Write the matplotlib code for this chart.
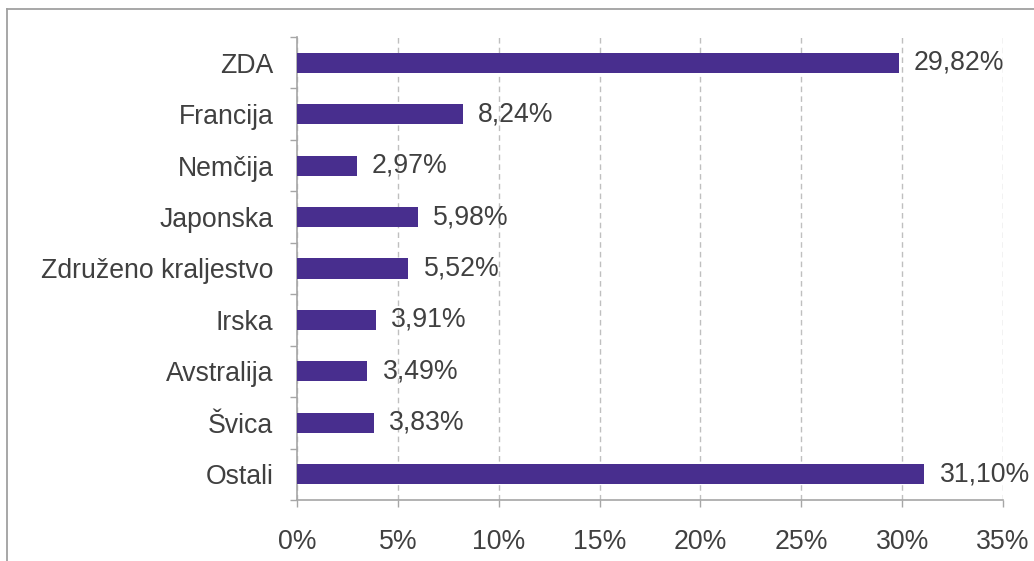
import numpy as np
import matplotlib
matplotlib.use("Agg")
import matplotlib.pyplot as plt
from matplotlib.lines import Line2D

plt.rcParams["font.family"] = ["Liberation Sans", "DejaVu Sans"]

# ── Data ──────────────────────────────────────────────────────────────────────
countries = ["ZDA", "Francija", "Nemčija", "Japonska", "Združeno kraljestvo",
             "Irska", "Avstralija", "Švica", "Ostali"]
shares = [29.82, 8.24, 2.97, 5.98, 5.52, 3.91, 3.49, 3.83, 31.10]
xticks = [0, 5, 10, 15, 20, 25, 30, 35]

BAR = "#482E8E"
TXT = "#404040"
AXC = "#A6A6A6"
FS = 19.2

fig = plt.figure(figsize=(10.34, 5.61), dpi=100)
fig.patch.set_facecolor("white")
ax = fig.add_axes([297 / 1034, 1 - 500 / 561, (1003 - 297) / 1034, (500 - 37) / 561])

y = np.arange(len(countries))
ax.barh(y, shares, height=0.39, color=BAR, zorder=3)

for yi, v in zip(y, shares):
    ax.text(v + 0.75, yi, f"{v:.2f}%".replace(".", ","), va="center", ha="left",
            fontsize=FS, color=TXT, zorder=4)

ax.set_xlim(0, 35)
ax.set_ylim(len(countries) - 0.5, -0.5)

ax.set_xticks(xticks)
ax.set_xticklabels([f"{t}%" for t in xticks])
ax.set_yticks(y)
ax.set_yticklabels(countries)
ax.set_yticks(np.arange(-0.5, len(countries), 1), minor=True)

ax.tick_params(axis="x", length=5, width=1, color=AXC, pad=16,
               labelsize=FS, labelcolor=TXT)
ax.tick_params(axis="y", which="major", length=0, pad=17,
               labelsize=FS, labelcolor=TXT)
ax.tick_params(axis="y", which="minor", length=5, width=1, color=AXC)

ax.grid(True, axis="x", color="#BFBFBF", linewidth=1, linestyle=(0, (4, 3)), zorder=0)
ax.set_axisbelow(True)

for sp in ["top", "right"]:
    ax.spines[sp].set_visible(False)
for sp in ["left", "bottom"]:
    ax.spines[sp].set_color(AXC)
    ax.spines[sp].set_linewidth(1.2)

# outer frame (cropped chart area border)
fy = 1 - 8.5 / 561
fx = 6.5 / 1034
fig.add_artist(Line2D([fx, 1], [fy, fy], transform=fig.transFigure,
                      color="#A0A0A0", linewidth=1.3))
fig.add_artist(Line2D([fx, fx], [0, fy], transform=fig.transFigure,
                      color="#A0A0A0", linewidth=1.3))

fig.savefig("out.png", dpi=100)
